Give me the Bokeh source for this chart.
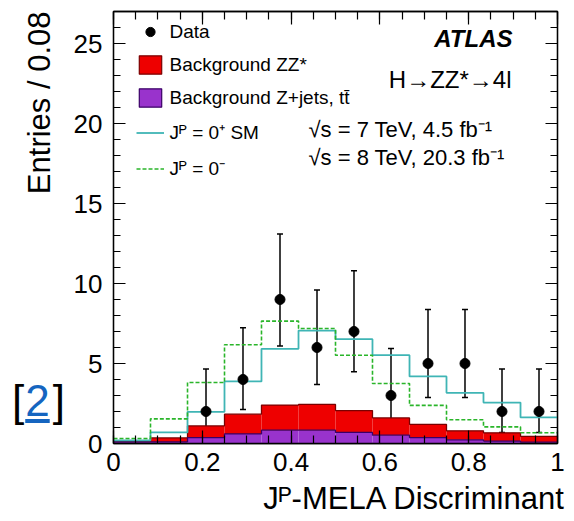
import math
import numpy as np
from bokeh.plotting import figure
from bokeh.models import (ColumnDataSource, Range1d, LinearAxis, FixedTicker, Div, GridBox,
                          Whisker, TeeHead, Label, Legend, LegendItem, Title)
from bokeh.embed import file_html
from bokeh.resources import INLINE

# ---------------- data ----------------
bin_edges = [0.0, 0.0833, 0.1667, 0.25, 0.3333, 0.4167, 0.5, 0.5833,
             0.6667, 0.75, 0.8333, 0.9167, 1.0]
bkg_zjets = [0.10, 0.10, 0.37, 0.60, 0.83, 0.83, 0.69, 0.52, 0.37, 0.23, 0.15, 0.08]
bkg_zz = [0.02, 0.25, 0.73, 1.23, 1.57, 1.61, 1.37, 1.08, 0.82, 0.56, 0.52, 0.36]
sig_0plus = [0.20, 0.69, 1.98, 3.88, 5.92, 7.06, 6.52, 5.52, 4.19, 3.17, 2.56, 1.63]
sig_0minus = [0.31, 1.54, 3.81, 6.17, 7.65, 7.19, 5.52, 3.75, 2.38, 1.48, 1.04, 0.67]
data_counts = [0, 0, 2, 4, 9, 6, 7, 3, 5, 5, 2, 2]
data_err_lo = [0, 0, 0.73, 2.13, 6.10, 3.69, 4.48, 1.40, 2.88, 2.88, 0.69, 0.69]
data_err_hi = [0, 0, 4.65, 7.23, 13.10, 9.60, 10.80, 5.94, 8.38, 8.38, 4.65, 4.65]
x_ticks = [0.0, 0.2, 0.4, 0.6, 0.8, 1.0]
x_tick_labels = ["0", "0.2", "0.4", "0.6", "0.8", "1"]
y_ticks = [0, 5, 10, 15, 20, 25]
y_tick_labels = ["0", "5", "10", "15", "20", "25"]

# ---------------- layout ----------------
W, H = 574, 521
B_LEFT, B_RIGHT, B_TOP, B_BOTTOM = 113, 17, 11, 78
FRAME_L = B_LEFT
FRAME_B = H - B_BOTTOM
FONT = "Liberation Sans"

p = figure(width=W, height=H, output_backend="svg", toolbar_location=None,
           x_range=Range1d(0, 1), y_range=Range1d(0, 27),
           min_border_left=B_LEFT, min_border_right=B_RIGHT,
           min_border_top=B_TOP, min_border_bottom=B_BOTTOM,
           background_fill_color="white", border_fill_color="white")
p.xgrid.grid_line_color = None
p.ygrid.grid_line_color = None
p.outline_line_color = "black"
p.outline_line_width = 1.3

left = bin_edges[:-1]
right = bin_edges[1:]
centers = [(a + b) / 2 for a, b in zip(left, right)]
stack_top = [a + b for a, b in zip(bkg_zjets, bkg_zz)]

src = ColumnDataSource(dict(left=left, right=right, zero=[0] * len(left),
                            zj=bkg_zjets, tot=stack_top))
p.quad(left="left", right="right", bottom="zero", top="zj", source=src,
       fill_color="#9933cc", line_color=None)
p.quad(left="left", right="right", bottom="zj", top="tot", source=src,
       fill_color="#ee0000", line_color=None)

def step_y(vals):
    return list(vals) + [vals[-1]]

p.step(x=bin_edges, y=step_y(stack_top), mode="after", line_color="#7a0000", line_width=1.3)
p.step(x=bin_edges, y=step_y(bkg_zjets), mode="after", line_color="#3a0066", line_width=1.3)
r_plus = p.step(x=bin_edges, y=step_y(sig_0plus), mode="after",
                line_color="#3fb5b5", line_width=1.8)
r_minus = p.step(x=bin_edges, y=step_y(sig_0minus), mode="after",
                 line_color="#2ab52a", line_width=1.6, line_dash="4 2")

# data points
sel = [i for i, n in enumerate(data_counts) if n > 0]
dsrc = ColumnDataSource(dict(x=[centers[i] for i in sel],
                             y=[data_counts[i] for i in sel],
                             lo=[data_err_lo[i] for i in sel],
                             hi=[data_err_hi[i] for i in sel]))
p.add_layout(Whisker(source=dsrc, base="x", upper="hi", lower="lo",
                     line_color="black", line_width=1.5,
                     upper_head=TeeHead(size=6, line_width=1.5, line_color="black"),
                     lower_head=TeeHead(size=6, line_width=1.5, line_color="black")))
r_data = p.scatter(x="x", y="y", source=dsrc, size=10, color="black")

# legend-only renderers for the boxed entries (a single NaN row: nothing is drawn)
nan_src = ColumnDataSource(dict(l=[float("nan")], r=[float("nan")],
                                t=[float("nan")], b=[float("nan")]))
r_zz_leg = p.quad(left="l", right="r", top="t", bottom="b", source=nan_src,
                  fill_color="#ee0000", line_color="#7a0000", line_width=1.2)
r_zj_leg = p.quad(left="l", right="r", top="t", bottom="b", source=nan_src,
                  fill_color="#9933cc", line_color="#3a0066", line_width=1.2)

legend = Legend(items=[
    LegendItem(label="Data", renderers=[r_data]),
    LegendItem(label="Background ZZ*", renderers=[r_zz_leg]),
    LegendItem(label="Background Z+jets, t\u0074\u0304", renderers=[r_zj_leg]),
    LegendItem(label="J\u1d3e = 0\u207a SM", renderers=[r_plus]),
    LegendItem(label="J\u1d3e = 0\u207b", renderers=[r_minus]),
], location=(22.5, 262), glyph_width=28, glyph_height=23, label_height=23,
    spacing=10, padding=0, margin=0, label_standoff=6,
    label_text_font=FONT, label_text_font_size="19px", label_text_color="black",
    border_line_color=None, background_fill_alpha=0)
p.add_layout(legend)

# ---------------- axes ----------------
x_minor = [round(v, 2) for v in np.arange(0, 1.0001, 0.05)]
y_minor = list(range(0, 28))
xt = FixedTicker(ticks=x_ticks, minor_ticks=x_minor)
yt = FixedTicker(ticks=y_ticks, minor_ticks=y_minor)

def style_axis(ax, ticker, ticks, labels, major_in, minor_in, show):
    ax.ticker = ticker
    ax.major_tick_in = major_in
    ax.major_tick_out = 0
    ax.minor_tick_in = minor_in
    ax.minor_tick_out = 0
    ax.axis_line_color = "black"
    ax.axis_line_width = 1.3
    ax.major_tick_line_color = "black"
    ax.major_tick_line_width = 1.2
    ax.minor_tick_line_color = "black"
    ax.minor_tick_line_width = 1.2
    ax.major_label_text_font = FONT
    ax.major_label_text_color = "black"
    if show:
        ax.major_label_text_font_size = "26px"
        ax.major_label_overrides = {t: s for t, s in zip(ticks, labels)}
    else:
        ax.major_label_text_font_size = "1px"
        ax.major_label_standoff = 0
        ax.major_label_overrides = {t: "" for t in ticks}

xb = p.xaxis[0]
yl = p.yaxis[0]
style_axis(xb, xt, x_ticks, x_tick_labels, 13, 8, True)
xb.major_label_standoff = 9
style_axis(yl, yt, y_ticks, y_tick_labels, 12, 7, True)
yl.major_label_standoff = 11

xa = LinearAxis()
style_axis(xa, xt, x_ticks, x_tick_labels, 13, 8, False)
p.add_layout(xa, "above")
yr = LinearAxis()
style_axis(yr, yt, y_ticks, y_tick_labels, 12, 7, False)
p.add_layout(yr, "right")

# axis titles as side-panel titles (ATLAS style: right/top aligned)
p.add_layout(Title(text="Entries / 0.08", align="right", text_font=FONT,
                   text_font_size="31px", text_font_style="normal",
                   text_color="black", standoff=27), "left")
p.add_layout(Title(text="J\u1d3e-MELA Discriminant", align="right", text_font=FONT,
                   text_font_size="31px", text_font_style="normal",
                   text_color="black", offset=-8, standoff=11), "below")

# ---------------- texts inside the frame (y = vertical centre of the text) ----------------
def lab(text, px, py, size, align="left", color="black", style="normal"):
    p.add_layout(Label(x=px - FRAME_L, y=FRAME_B - py, x_units="screen", y_units="screen",
                       text=text, text_font=FONT, text_font_size=f"{size}px",
                       text_color=color, text_font_style=style, text_align=align,
                       text_baseline="middle"))

lab("ATLAS", 512, 38, 24, align="right", style="bold italic")
lab("H\u2192ZZ*\u21924l", 511, 79, 24, align="right")
lab("\u221as = 7 TeV, 4.5 fb\u207b\u00b9", 308, 129, 22)
lab("\u221as = 8 TeV, 20.3 fb\u207b\u00b9", 308, 157, 22)

# reference marker "[2]" left of the frame, as an HTML overlay on the same grid cell
ref_mark = Div(
    text='[<span style="color:#1565c0;text-decoration:underline;'
         'margin-left:1px;margin-right:3px">2</span>]',
    width=70, height=50, margin=(379, 0, 0, 12),
    styles={"font-family": "Liberation Sans", "font-size": "44px",
            "line-height": "44px", "color": "black"})

layout = GridBox(children=[(p, 0, 0), (ref_mark, 0, 0)])

open("out.html", "w").write(file_html(layout, INLINE))
